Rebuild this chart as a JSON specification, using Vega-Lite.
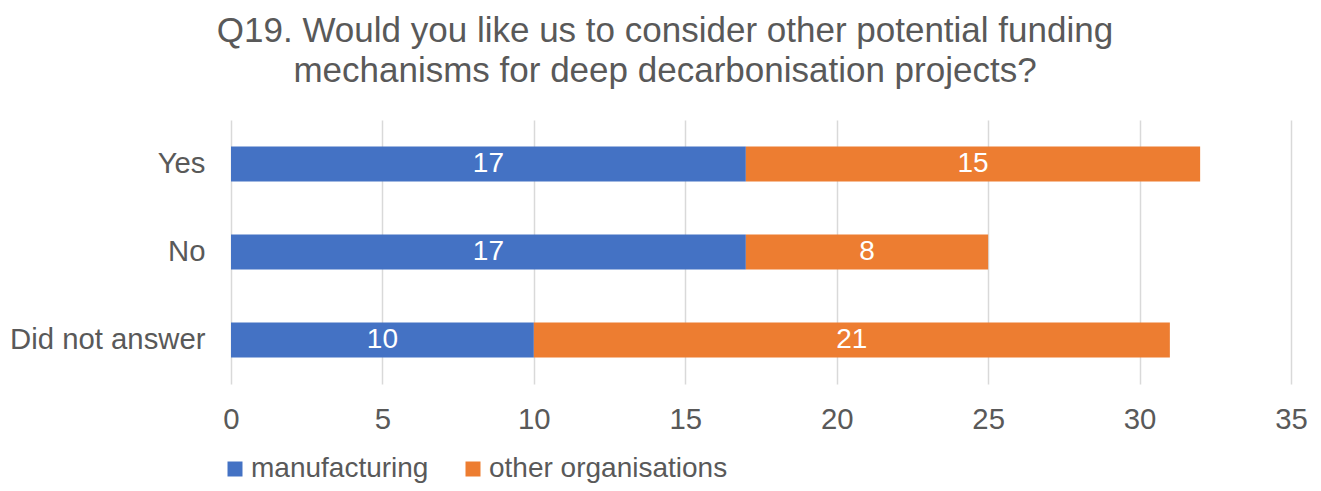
{
  "$schema": "https://vega.github.io/schema/vega-lite/v6.json",
  "autosize": {"type": "none"},
  "width": 1060,
  "height": 264,
  "padding": {"left": 231, "top": 120, "right": 30, "bottom": 107},
  "background": "white",
  "config": {"font": "Liberation Sans", "view": {"stroke": null}},
  "title": {
    "text": ["Q19. Would you like us to consider other potential funding", "mechanisms for deep decarbonisation projects?"],
    "fontSize": 35,
    "fontWeight": "normal",
    "color": "#595959",
    "lineHeight": 40,
    "anchor": "middle",
    "frame": "group",
    "offset": 31,
    "dx": -96
  },
  "data": {
    "values": [
      {"answer": "Yes", "group": "manufacturing", "count": 17, "order": 1},
      {"answer": "Yes", "group": "other organisations", "count": 15, "order": 2},
      {"answer": "No", "group": "manufacturing", "count": 17, "order": 1},
      {"answer": "No", "group": "other organisations", "count": 8, "order": 2},
      {"answer": "Did not answer", "group": "manufacturing", "count": 10, "order": 1},
      {"answer": "Did not answer", "group": "other organisations", "count": 21, "order": 2}
    ]
  },
  "encoding": {
    "y": {
      "field": "answer",
      "type": "nominal",
      "sort": ["Yes", "No", "Did not answer"],
      "scale": {"paddingInner": 0.6, "paddingOuter": 0.3},
      "axis": {"title": null, "domain": false, "ticks": false, "labelFontSize": 29.3, "labelColor": "#595959", "labelPadding": 26, "labelFont": "Liberation Sans", "labelLimit": 400}
    },
    "x": {
      "field": "count",
      "type": "quantitative",
      "stack": "zero",
      "scale": {"domain": [0, 35], "nice": false},
      "axis": {"title": null, "values": [0, 5, 10, 15, 20, 25, 30, 35], "domain": false, "ticks": false, "grid": true, "gridColor": "#d9d9d9", "gridWidth": 1.5, "labelFontSize": 29.3, "labelColor": "#595959", "labelPadding": 21, "labelFont": "Liberation Sans", "labelFlush": false, "labelOverlap": false, "labelBound": false}
    },
    "order": {"field": "order", "type": "quantitative"}
  },
  "layer": [
    {
      "mark": {"type": "bar"},
      "encoding": {
        "color": {
          "field": "group",
          "type": "nominal",
          "scale": {"domain": ["manufacturing", "other organisations"], "range": ["#4472c4", "#ed7d31"]},
          "legend": {
            "title": null,
            "orient": "none",
            "direction": "horizontal",
            "legendX": -10,
            "legendY": 335,
            "symbolType": "square",
            "symbolSize": 225,
            "symbolStrokeWidth": 0,
            "labelFontSize": 28,
            "labelColor": "#595959",
            "labelFont": "Liberation Sans",
            "labelLimit": 500,
            "columnPadding": 30,
            "labelOffset": 2
          }
        }
      }
    },
    {
      "mark": {"type": "text", "color": "white", "fontSize": 28, "font": "Liberation Sans"},
      "encoding": {
        "x": {"field": "count", "type": "quantitative", "stack": "zero", "bandPosition": 0.5},
        "text": {"field": "count", "type": "quantitative"}
      }
    }
  ]
}
